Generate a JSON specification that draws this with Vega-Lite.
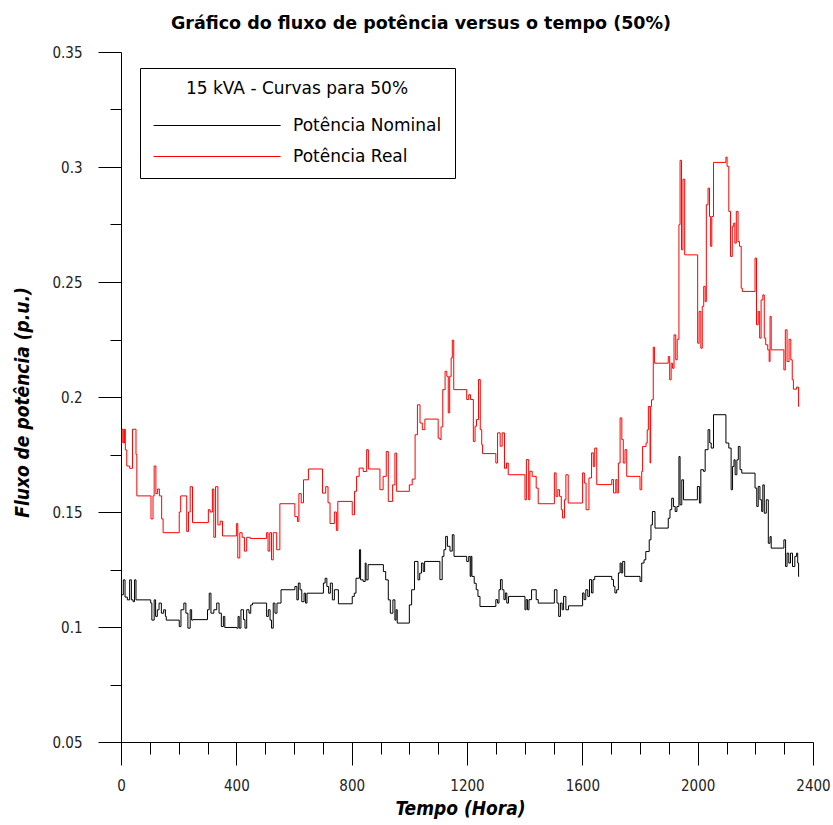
{
"$schema": "https://vega.github.io/schema/vega-lite/v6.json",
"width": 692, "height": 690,
"autosize": {"type": "none"},
"padding": {"left": 121, "top": 52, "right": 20, "bottom": 83},
"background": "white",
"title": {"text": "Gráfico do fluxo de potência versus o tempo (50%)", "font": "DejaVu Sans, Liberation Sans, sans-serif", "fontSize": 17.5, "fontWeight": "bold", "color": "black", "anchor": "middle", "dx": -46, "offset": 13},
"config": {"view": {"stroke": null}, "font": "DejaVu Sans Condensed, Liberation Sans, sans-serif"},
"datasets": {
"nominal": [
{"t":0,"v":0.114},{"t":8,"v":0.1205},{"t":14,"v":0.113},{"t":22,"v":0.1118},{"t":30,"v":0.1205},{"t":36,"v":0.1118},{"t":42,"v":0.111},{"t":47,"v":0.1205},{"t":52,"v":0.1118},{"t":103,"v":0.1104},{"t":107,"v":0.103},{"t":115,"v":0.1118},{"t":120,"v":0.1046},{"t":126,"v":0.1075},{"t":132,"v":0.1104},{"t":140,"v":0.106},{"t":148,"v":0.1075},{"t":154,"v":0.1046},{"t":157,"v":0.103},{"t":202,"v":0.1002},{"t":208,"v":0.1075},{"t":218,"v":0.1104},{"t":225,"v":0.106},{"t":232,"v":0.0995},{"t":240,"v":0.1075},{"t":245,"v":0.103},{"t":250,"v":0.1032},{"t":300,"v":0.1075},{"t":306,"v":0.1147},{"t":312,"v":0.106},{"t":322,"v":0.1075},{"t":332,"v":0.1104},{"t":340,"v":0.106},{"t":348,"v":0.1002},{"t":355,"v":0.1046},{"t":360,"v":0.0998},{"t":401,"v":0.0995},{"t":406,"v":0.1046},{"t":410,"v":0.0995},{"t":416,"v":0.1075},{"t":425,"v":0.1032},{"t":430,"v":0.0995},{"t":436,"v":0.1075},{"t":444,"v":0.106},{"t":450,"v":0.1096},{"t":456,"v":0.1104},{"t":505,"v":0.1046},{"t":511,"v":0.1075},{"t":517,"v":0.103},{"t":522,"v":0.0995},{"t":528,"v":0.1104},{"t":534,"v":0.106},{"t":541,"v":0.1104},{"t":555,"v":0.1162},{"t":603,"v":0.1176},{"t":610,"v":0.1118},{"t":615,"v":0.1191},{"t":621,"v":0.1162},{"t":627,"v":0.111},{"t":635,"v":0.1147},{"t":640,"v":0.1104},{"t":645,"v":0.1147},{"t":702,"v":0.1191},{"t":708,"v":0.1212},{"t":714,"v":0.1176},{"t":720,"v":0.1147},{"t":726,"v":0.1191},{"t":733,"v":0.1118},{"t":740,"v":0.1162},{"t":754,"v":0.1101},{"t":802,"v":0.1133},{"t":809,"v":0.1147},{"t":815,"v":0.1212},{"t":827,"v":0.1336},{"t":831,"v":0.1205},{"t":840,"v":0.1198},{"t":847,"v":0.1278},{"t":850,"v":0.1205},{"t":857,"v":0.1271},{"t":910,"v":0.1241},{"t":918,"v":0.1205},{"t":927,"v":0.1118},{"t":934,"v":0.106},{"t":943,"v":0.1118},{"t":950,"v":0.103},{"t":954,"v":0.1075},{"t":958,"v":0.1017},{"t":1000,"v":0.1096},{"t":1008,"v":0.1162},{"t":1018,"v":0.1285},{"t":1030,"v":0.1205},{"t":1036,"v":0.1234},{"t":1042,"v":0.1278},{"t":1048,"v":0.1241},{"t":1053,"v":0.1285},{"t":1106,"v":0.1206},{"t":1114,"v":0.1307},{"t":1120,"v":0.1336},{"t":1126,"v":0.1394},{"t":1132,"v":0.1351},{"t":1141,"v":0.133},{"t":1149,"v":0.1401},{"t":1155,"v":0.1307},{"t":1199,"v":0.1285},{"t":1206,"v":0.1307},{"t":1211,"v":0.122},{"t":1214,"v":0.1307},{"t":1217,"v":0.122},{"t":1225,"v":0.119},{"t":1232,"v":0.1162},{"t":1238,"v":0.1133},{"t":1245,"v":0.1089},{"t":1300,"v":0.1119},{"t":1306,"v":0.1104},{"t":1311,"v":0.1162},{"t":1316,"v":0.1206},{"t":1322,"v":0.1162},{"t":1328,"v":0.1119},{"t":1333,"v":0.1148},{"t":1338,"v":0.1104},{"t":1344,"v":0.1133},{"t":1401,"v":0.1075},{"t":1405,"v":0.1119},{"t":1410,"v":0.1075},{"t":1415,"v":0.1119},{"t":1424,"v":0.1162},{"t":1440,"v":0.1119},{"t":1447,"v":0.1104},{"t":1503,"v":0.1162},{"t":1512,"v":0.1104},{"t":1518,"v":0.1046},{"t":1524,"v":0.1104},{"t":1530,"v":0.1075},{"t":1535,"v":0.1133},{"t":1543,"v":0.1075},{"t":1552,"v":0.1092},{"t":1601,"v":0.1148},{"t":1606,"v":0.1119},{"t":1612,"v":0.1162},{"t":1619,"v":0.1133},{"t":1625,"v":0.1206},{"t":1632,"v":0.1148},{"t":1637,"v":0.1206},{"t":1643,"v":0.122},{"t":1702,"v":0.1206},{"t":1708,"v":0.1177},{"t":1713,"v":0.1148},{"t":1719,"v":0.1162},{"t":1725,"v":0.1235},{"t":1731,"v":0.1278},{"t":1735,"v":0.1235},{"t":1740,"v":0.1285},{"t":1747,"v":0.122},{"t":1800,"v":0.1198},{"t":1806,"v":0.1278},{"t":1814,"v":0.1292},{"t":1820,"v":0.1328},{"t":1832,"v":0.1379},{"t":1838,"v":0.1444},{"t":1843,"v":0.1502},{"t":1852,"v":0.143},{"t":1898,"v":0.1473},{"t":1904,"v":0.151},{"t":1910,"v":0.156},{"t":1916,"v":0.1524},{"t":1922,"v":0.1502},{"t":1928,"v":0.1524},{"t":1935,"v":0.1741},{"t":1939,"v":0.1531},{"t":1945,"v":0.164},{"t":1951,"v":0.1553},{"t":1999,"v":0.1611},{"t":2006,"v":0.1539},{"t":2011,"v":0.1684},{"t":2020,"v":0.1677},{"t":2026,"v":0.1771},{"t":2036,"v":0.1858},{"t":2042,"v":0.18},{"t":2047,"v":0.1778},{"t":2055,"v":0.1923},{"t":2098,"v":0.18},{"t":2108,"v":0.1778},{"t":2116,"v":0.1597},{"t":2121,"v":0.1698},{"t":2126,"v":0.1727},{"t":2130,"v":0.1662},{"t":2136,"v":0.1727},{"t":2141,"v":0.1785},{"t":2147,"v":0.1684},{"t":2153,"v":0.1669},{"t":2199,"v":0.1604},{"t":2205,"v":0.1524},{"t":2210,"v":0.1611},{"t":2216,"v":0.1553},{"t":2222,"v":0.1502},{"t":2226,"v":0.1618},{"t":2231,"v":0.1495},{"t":2238,"v":0.1553},{"t":2245,"v":0.1364},{"t":2251,"v":0.1393},{"t":2255,"v":0.1343},{"t":2299,"v":0.1379},{"t":2305,"v":0.1263},{"t":2310,"v":0.1321},{"t":2316,"v":0.1278},{"t":2322,"v":0.1321},{"t":2329,"v":0.1263},{"t":2337,"v":0.1307},{"t":2343,"v":0.1321},{"t":2347,"v":0.1278},{"t":2350,"v":0.122},{"t":2352,"v":0.122}
],
"real": [
{"t":0,"v":0.18},{"t":4,"v":0.186},{"t":8,"v":0.18},{"t":12,"v":0.186},{"t":15,"v":0.177},{"t":20,"v":0.17},{"t":30,"v":0.169},{"t":40,"v":0.186},{"t":52,"v":0.175},{"t":55,"v":0.157},{"t":104,"v":0.147},{"t":111,"v":0.157},{"t":115,"v":0.17},{"t":121,"v":0.158},{"t":127,"v":0.16},{"t":133,"v":0.157},{"t":141,"v":0.147},{"t":146,"v":0.141},{"t":202,"v":0.15},{"t":207,"v":0.157},{"t":228,"v":0.1415},{"t":234,"v":0.15},{"t":240,"v":0.161},{"t":248,"v":0.1454},{"t":303,"v":0.151},{"t":309,"v":0.15},{"t":317,"v":0.16},{"t":322,"v":0.139},{"t":328,"v":0.161},{"t":336,"v":0.1444},{"t":344,"v":0.146},{"t":352,"v":0.1396},{"t":401,"v":0.145},{"t":405,"v":0.13},{"t":412,"v":0.141},{"t":420,"v":0.139},{"t":428,"v":0.133},{"t":436,"v":0.139},{"t":448,"v":0.1385},{"t":505,"v":0.141},{"t":510,"v":0.133},{"t":516,"v":0.141},{"t":522,"v":0.1292},{"t":528,"v":0.141},{"t":540,"v":0.1336},{"t":551,"v":0.1536},{"t":603,"v":0.148},{"t":612,"v":0.1459},{"t":617,"v":0.158},{"t":625,"v":0.154},{"t":633,"v":0.164},{"t":650,"v":0.1687},{"t":699,"v":0.1582},{"t":710,"v":0.161},{"t":718,"v":0.154},{"t":725,"v":0.145},{"t":740,"v":0.15},{"t":747,"v":0.142},{"t":752,"v":0.1546},{"t":802,"v":0.1488},{"t":810,"v":0.159},{"t":817,"v":0.1655},{"t":826,"v":0.1691},{"t":840,"v":0.1676},{"t":852,"v":0.1771},{"t":858,"v":0.1687},{"t":898,"v":0.1597},{"t":909,"v":0.1655},{"t":920,"v":0.1763},{"t":927,"v":0.1546},{"t":942,"v":0.1618},{"t":950,"v":0.1756},{"t":956,"v":0.159},{"t":1000,"v":0.1618},{"t":1010,"v":0.1643},{"t":1020,"v":0.1836},{"t":1028,"v":0.1966},{"t":1037,"v":0.1887},{"t":1045,"v":0.1858},{"t":1054,"v":0.1904},{"t":1100,"v":0.1821},{"t":1106,"v":0.1815},{"t":1110,"v":0.187},{"t":1116,"v":0.2032},{"t":1124,"v":0.2112},{"t":1130,"v":0.209},{"t":1135,"v":0.1931},{"t":1140,"v":0.209},{"t":1145,"v":0.217},{"t":1149,"v":0.2247},{"t":1154,"v":0.2032},{"t":1199,"v":0.1989},{"t":1206,"v":0.201},{"t":1212,"v":0.1989},{"t":1222,"v":0.1807},{"t":1228,"v":0.1873},{"t":1233,"v":0.1902},{"t":1240,"v":0.2076},{"t":1246,"v":0.1858},{"t":1251,"v":0.1793},{"t":1254,"v":0.1754},{"t":1300,"v":0.1713},{"t":1306,"v":0.1844},{"t":1315,"v":0.1786},{"t":1322,"v":0.1844},{"t":1330,"v":0.169},{"t":1337,"v":0.1713},{"t":1343,"v":0.1662},{"t":1401,"v":0.1553},{"t":1406,"v":0.1728},{"t":1414,"v":0.1553},{"t":1418,"v":0.1677},{"t":1426,"v":0.1655},{"t":1440,"v":0.1604},{"t":1447,"v":0.1536},{"t":1503,"v":0.167},{"t":1509,"v":0.1568},{"t":1515,"v":0.1597},{"t":1521,"v":0.1568},{"t":1527,"v":0.151},{"t":1531,"v":0.1474},{"t":1538,"v":0.1553},{"t":1543,"v":0.1662},{"t":1551,"v":0.1539},{"t":1601,"v":0.167},{"t":1607,"v":0.1626},{"t":1613,"v":0.151},{"t":1623,"v":0.1648},{"t":1632,"v":0.1757},{"t":1638,"v":0.1698},{"t":1643,"v":0.1778},{"t":1650,"v":0.1619},{"t":1702,"v":0.1641},{"t":1708,"v":0.1583},{"t":1716,"v":0.1641},{"t":1720,"v":0.1583},{"t":1725,"v":0.1713},{"t":1731,"v":0.1909},{"t":1737,"v":0.1815},{"t":1742,"v":0.1713},{"t":1748,"v":0.1771},{"t":1754,"v":0.1655},{"t":1800,"v":0.1597},{"t":1806,"v":0.1676},{"t":1809,"v":0.1785},{"t":1821,"v":0.18},{"t":1825,"v":0.1857},{"t":1829,"v":0.1959},{"t":1835,"v":0.1713},{"t":1837,"v":0.1959},{"t":1840,"v":0.1988},{"t":1846,"v":0.2217},{"t":1850,"v":0.2147},{"t":1898,"v":0.2176},{"t":1903,"v":0.2075},{"t":1908,"v":0.2147},{"t":1913,"v":0.2125},{"t":1918,"v":0.227},{"t":1924,"v":0.2162},{"t":1929,"v":0.2251},{"t":1935,"v":0.2749},{"t":1939,"v":0.3029},{"t":1944,"v":0.264},{"t":1949,"v":0.2947},{"t":1955,"v":0.2618},{"t":2000,"v":0.2234},{"t":2005,"v":0.2372},{"t":2011,"v":0.2212},{"t":2016,"v":0.2394},{"t":2021,"v":0.2481},{"t":2026,"v":0.2415},{"t":2030,"v":0.2836},{"t":2036,"v":0.2908},{"t":2041,"v":0.2785},{"t":2045,"v":0.2655},{"t":2049,"v":0.2785},{"t":2055,"v":0.302},{"t":2098,"v":0.3043},{"t":2102,"v":0.3003},{"t":2108,"v":0.2807},{"t":2114,"v":0.2611},{"t":2120,"v":0.2742},{"t":2125,"v":0.2756},{"t":2129,"v":0.2669},{"t":2134,"v":0.2807},{"t":2140,"v":0.2676},{"t":2145,"v":0.2655},{"t":2151,"v":0.2473},{"t":2155,"v":0.2459},{"t":2199,"v":0.2604},{"t":2204,"v":0.2314},{"t":2210,"v":0.2372},{"t":2215,"v":0.2256},{"t":2220,"v":0.2422},{"t":2226,"v":0.2444},{"t":2231,"v":0.2256},{"t":2236,"v":0.2227},{"t":2243,"v":0.2205},{"t":2248,"v":0.2154},{"t":2251,"v":0.235},{"t":2255,"v":0.2205},{"t":2299,"v":0.2118},{"t":2304,"v":0.2292},{"t":2310,"v":0.2154},{"t":2317,"v":0.2251},{"t":2323,"v":0.2162},{"t":2328,"v":0.2075},{"t":2332,"v":0.2034},{"t":2343,"v":0.2043},{"t":2350,"v":0.1959},{"t":2352,"v":0.1959}
]
},
"layer": [
{
"data": {"name": "nominal"},
"mark": {"type": "line", "interpolate": "step-after", "strokeWidth": 1},
"encoding": {
"x": {"field": "t", "type": "quantitative", "scale": {"domain": [0, 2400], "nice": false},
"axis": {"orient": "bottom", "values": [0, 400, 800, 1200, 1600, 2000, 2400], "format": "d", "tickSize": 23, "tickColor": "black", "domainColor": "black", "grid": false, "labelFontSize": 15, "labelColor": "#222", "labelPadding": 13, "labelFlush": false, "title": "Tempo (Hora)", "titleFontSize": 19, "titleFontStyle": "italic", "titleFontWeight": "bold", "titleColor": "black", "titlePadding": 6, "titleX": 339}},
"y": {"field": "v", "type": "quantitative", "scale": {"domain": [0.05, 0.35], "nice": false, "zero": false},
"axis": {"orient": "left", "values": [0.05, 0.1, 0.15, 0.2, 0.25, 0.3, 0.35], "format": ".2~f", "tickSize": 23, "tickColor": "black", "domainColor": "black", "grid": false, "labelFontSize": 15, "labelColor": "#222", "labelPadding": 16, "labelFlush": false, "title": "Fluxo de potência (p.u.)", "titleFontSize": 19, "titleFontStyle": "italic", "titleFontWeight": "bold", "titleColor": "black", "titlePadding": 19, "titleY": 350}},
"color": {"datum": "Potência Nominal", "type": "nominal",
"scale": {"domain": ["Potência Nominal", "Potência Real"], "range": ["#000000", "#ff0000"]},
"legend": {"orient": "none", "legendX": 19, "legendY": 16, "title": "15 kVA - Curvas para 50%", "titleFont": "DejaVu Sans, Liberation Sans, sans-serif", "titleFontSize": 17, "titleFontWeight": "normal", "titleColor": "black", "titleAnchor": "middle", "titleLimit": 500, "titlePadding": 11, "labelFont": "DejaVu Sans, Liberation Sans, sans-serif", "labelFontSize": 17, "labelColor": "black", "labelOffset": 107, "labelLimit": 400, "symbolType": "M-1,0L7,0", "symbolSize": 1008, "symbolStrokeWidth": 1, "strokeColor": "black", "fillColor": "white", "padding": 13, "rowPadding": 6}}
}
},
{
"data": {"name": "real"},
"mark": {"type": "line", "interpolate": "step-after", "strokeWidth": 1},
"encoding": {
"x": {"field": "t", "type": "quantitative",
"axis": {"orient": "bottom", "values": [100, 200, 300, 500, 600, 700, 900, 1000, 1100, 1300, 1400, 1500, 1700, 1800, 1900, 2100, 2200, 2300], "tickSize": 12, "tickColor": "black", "domain": false, "labels": false, "grid": false, "title": null}},
"y": {"field": "v", "type": "quantitative",
"axis": {"orient": "left", "values": [0.075, 0.125, 0.175, 0.225, 0.275, 0.325], "tickSize": 11, "tickColor": "black", "domain": false, "labels": false, "grid": false, "title": null}},
"color": {"datum": "Potência Real", "type": "nominal"}
}
}
],
"resolve": {"axis": {"x": "independent", "y": "independent"}}
}
